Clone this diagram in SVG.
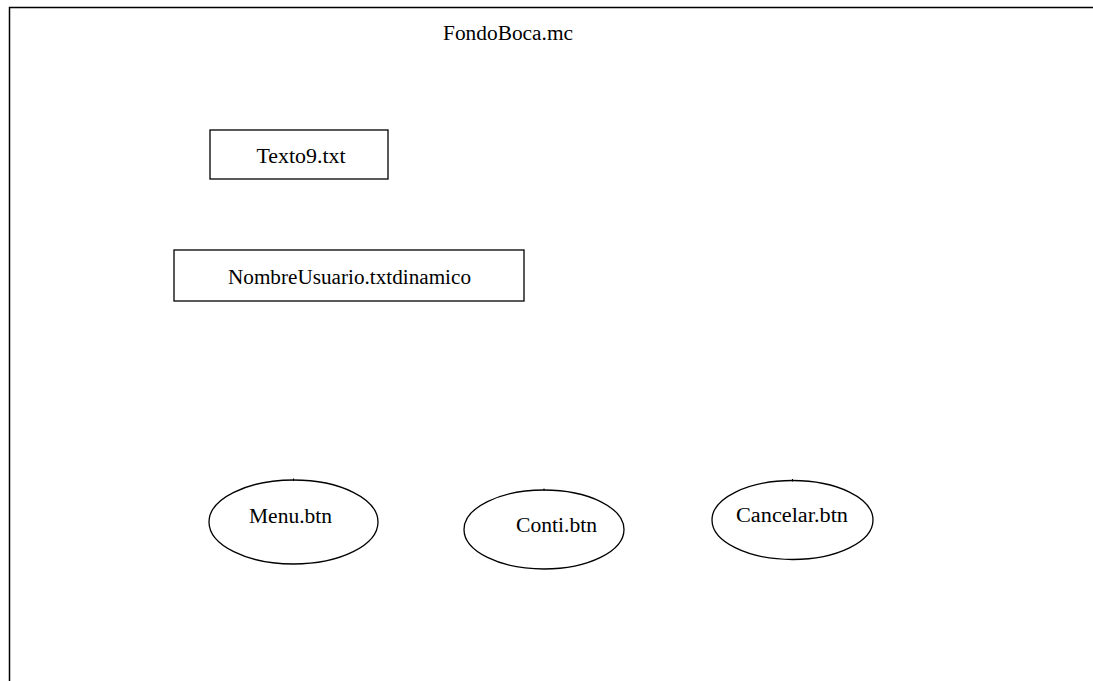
<svg xmlns="http://www.w3.org/2000/svg" width="1093" height="681" viewBox="0 0 1093 681">
  <style>
    .frame { fill: none; stroke: #000; stroke-width: 1.5; }
    .box { fill: #fff; stroke: #000; stroke-width: 1.3; }
    .tick { stroke: #000; stroke-width: 1; }
    .lbl { font-family: "Liberation Serif", "Times New Roman", serif; font-size: 20.5px; fill: #000; }
  </style>
  <rect width="1093" height="681" fill="#fff"/>

  <!-- movie clip frame (open on right and bottom) -->
  <g id="fondo">
    <path class="frame" d="M9.5,681 V7.5 H1093"/>
    <text class="lbl" x="508" y="40" text-anchor="middle" textLength="130" lengthAdjust="spacingAndGlyphs">FondoBoca.mc</text>
  </g>

  <g id="texto9">
    <rect class="box" x="210" y="130" width="178" height="49"/>
    <text class="lbl" x="301" y="163" text-anchor="middle" textLength="89" lengthAdjust="spacingAndGlyphs">Texto9.txt</text>
  </g>

  <g id="nombreUsuario">
    <rect class="box" x="174" y="250" width="350" height="51"/>
    <text class="lbl" x="349.5" y="284" text-anchor="middle" textLength="243" lengthAdjust="spacingAndGlyphs">NombreUsuario.txtdinamico</text>
  </g>

  <g id="menu">
    <ellipse class="box" cx="293.5" cy="522" rx="84.5" ry="42"/>
    <line class="tick" x1="293.5" y1="478.5" x2="293.5" y2="481"/>
    <text class="lbl" x="290.5" y="523" text-anchor="middle" textLength="83" lengthAdjust="spacingAndGlyphs">Menu.btn</text>
  </g>

  <g id="conti">
    <ellipse class="box" cx="544" cy="529.5" rx="80" ry="39.5"/>
    <line class="tick" x1="544" y1="488.5" x2="544" y2="491"/>
    <text class="lbl" x="556.5" y="532" text-anchor="middle" textLength="81" lengthAdjust="spacingAndGlyphs">Conti.btn</text>
  </g>

  <g id="cancelar">
    <ellipse class="box" cx="792.5" cy="520" rx="80.5" ry="39.5"/>
    <line class="tick" x1="792.5" y1="479" x2="792.5" y2="481.5"/>
    <text class="lbl" x="792" y="522" text-anchor="middle" textLength="112" lengthAdjust="spacingAndGlyphs">Cancelar.btn</text>
  </g>

  <g id="connectors"></g>
</svg>
